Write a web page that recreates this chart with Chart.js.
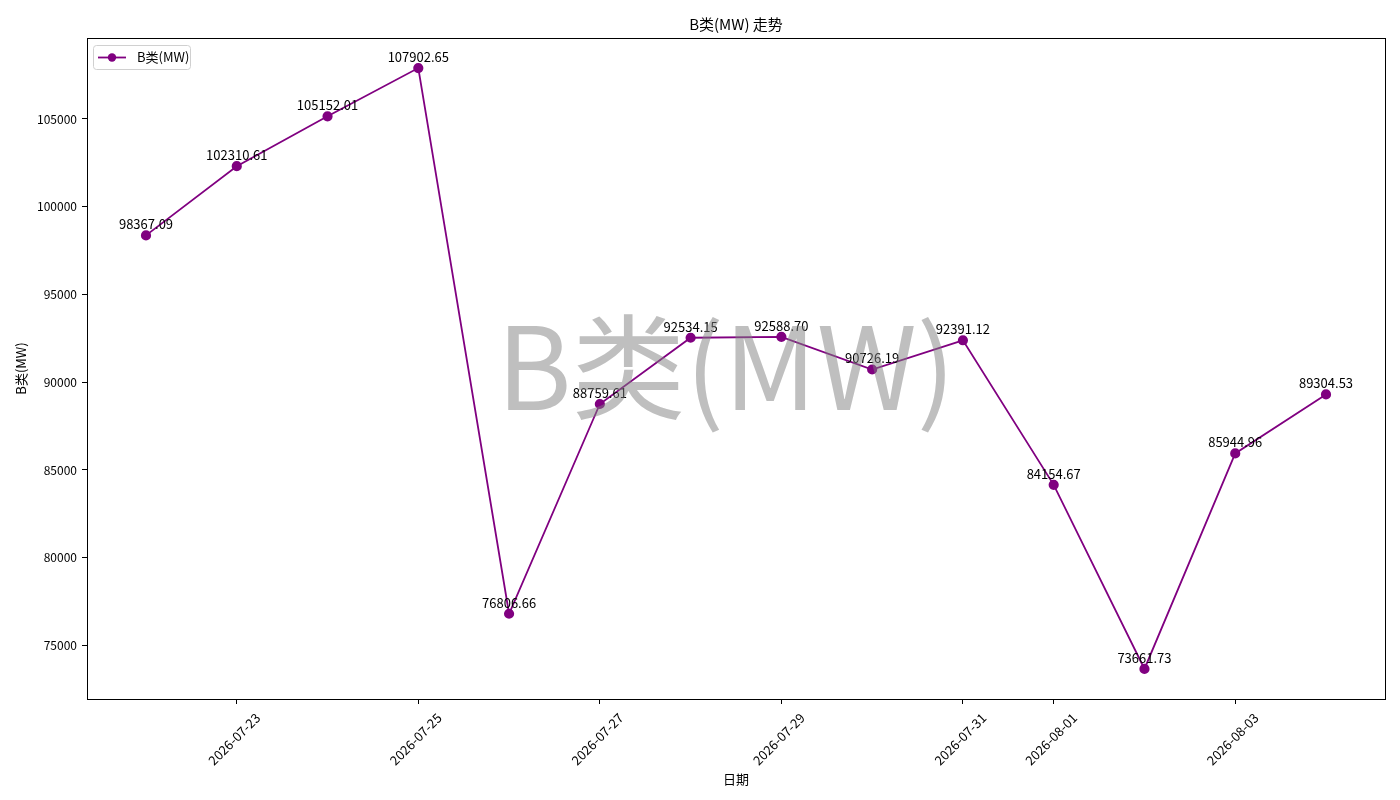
<!DOCTYPE html>
<html>
<head>
<meta charset="utf-8">
<script src="https://cdn.jsdelivr.net/npm/chart.js@4.4.1/dist/chart.umd.min.js"></script>
<style>
  html, body { margin: 0; padding: 0; background: #fff; }
  canvas { display: block; }
</style>
</head>
<body>
<canvas id="trendChart" width="1400" height="800"></canvas>
<script>
const dates = [
    '2026-07-22', '2026-07-23', '2026-07-24', '2026-07-25', '2026-07-26', '2026-07-27', '2026-07-28',
    '2026-07-29', '2026-07-30', '2026-07-31', '2026-08-01', '2026-08-02', '2026-08-03', '2026-08-04'
];
const bValues = [
    98367.09, 102310.61, 105152.01, 107902.65, 76806.66, 88759.61, 92534.15,
    92588.70, 90726.19, 92391.12, 84154.67, 73661.73, 85944.96, 89304.53
];
const xTickLabels = ['2026-07-23', '2026-07-25', '2026-07-27', '2026-07-29', '2026-07-31', '2026-08-01', '2026-08-03'];
const yTickValues = [75000, 80000, 85000, 90000, 95000, 100000, 105000];

const seriesName = 'B类(MW)';
const chartTitle = 'B类(MW) 走势';
const xTitle = '日期';
const lineColor = '#800080';
const fontFamily = '"Noto Sans CJK SC", "Noto Sans", sans-serif';

// frame, labels, legend, titles, watermark
const decorations = {
    id: 'decorations',
    afterDraw(chart) {
        const { ctx, chartArea } = chart;
        const { left, right, top, bottom } = chartArea;
        const meta = chart.getDatasetMeta(0);

        ctx.save();

        // axes box
        ctx.strokeStyle = '#000';
        ctx.lineWidth = 1;
        ctx.strokeRect(Math.round(left) + 0.5, Math.round(top) + 0.5, Math.round(right - left), Math.round(bottom - top));

        // value labels
        ctx.fillStyle = '#000';
        ctx.font = '13px ' + fontFamily;
        ctx.textAlign = 'center';
        ctx.textBaseline = 'middle';
        meta.data.forEach((pt, i) => {
            ctx.fillText(bValues[i].toFixed(2), pt.x, pt.y - 11);
        });

        // legend
        const lx = left + 6, ly = top + 7;
        ctx.beginPath();
        ctx.roundRect(lx + 0.5, ly + 0.5, 97, 24, 3);
        ctx.fillStyle = 'rgba(255,255,255,0.8)';
        ctx.fill();
        ctx.strokeStyle = '#d0d0d0';
        ctx.stroke();
        ctx.strokeStyle = lineColor;
        ctx.lineWidth = 1.8;
        ctx.beginPath();
        ctx.moveTo(lx + 5, ly + 12.5);
        ctx.lineTo(lx + 33, ly + 12.5);
        ctx.stroke();
        ctx.fillStyle = lineColor;
        ctx.beginPath();
        ctx.arc(lx + 19, ly + 12.5, 4.2, 0, Math.PI * 2);
        ctx.fill();
        ctx.fillStyle = '#000';
        ctx.font = '13px ' + fontFamily;
        ctx.textAlign = 'left';
        ctx.fillText(seriesName, lx + 44, ly + 12.5);

        // titles
        const cx = (left + right) / 2;
        ctx.textAlign = 'center';
        ctx.font = '15px ' + fontFamily;
        ctx.fillText(chartTitle, cx, 24);
        ctx.font = '13px ' + fontFamily;
        ctx.fillText(xTitle, cx, 779);
        ctx.save();
        ctx.translate(21, (top + bottom) / 2);
        ctx.rotate(-Math.PI / 2);
        ctx.fillText(seriesName, 0, 0);
        ctx.restore();

        // watermark
        ctx.font = '114px ' + fontFamily;
        ctx.fillStyle = 'rgba(128,128,128,0.5)';
        ctx.fillText(seriesName, cx - 10, (top + bottom) / 2 - 2);

        ctx.restore();
    }
};

const ctx = document.getElementById('trendChart').getContext('2d');
new Chart(ctx, {
    type: 'line',
    data: {
        datasets: [{
            label: seriesName,
            data: bValues.map((v, i) => ({ x: i, y: v })),
            borderColor: lineColor,
            backgroundColor: lineColor,
            borderWidth: 1.8,
            pointRadius: 4.2,
            pointHoverRadius: 4.2,
            tension: 0
        }]
    },
    options: {
        responsive: false,
        animation: false,
        devicePixelRatio: 1,
        layout: { padding: { top: 38, right: 15, left: 0, bottom: 0 } },
        plugins: {
            legend: { display: false },
            title: { display: false },
            tooltip: { enabled: false }
        },
        scales: {
            x: {
                type: 'linear',
                min: -0.65,
                max: 13.65,
                afterBuildTicks: scale => {
                    scale.ticks = xTickLabels.map(d => ({ value: dates.indexOf(d) }));
                },
                afterFit: scale => { scale.height = 101; },
                ticks: {
                    autoSkip: false,
                    minRotation: 45,
                    maxRotation: 45,
                    labelOffset: 21,
                    padding: 6,
                    color: '#000',
                    font: { size: 13, family: fontFamily },
                    callback: value => dates[value]
                },
                grid: { drawOnChartArea: false, color: '#000', tickColor: '#000', tickLength: 5 },
                border: { color: '#000' }
            },
            y: {
                min: 71950,
                max: 109615,
                afterBuildTicks: scale => {
                    scale.ticks = yTickValues.map(v => ({ value: v }));
                },
                afterFit: scale => { scale.width = 87; },
                ticks: {
                    padding: 5,
                    color: '#000',
                    font: { size: 12, family: fontFamily },
                    callback: value => String(value)
                },
                grid: { drawOnChartArea: false, color: '#000', tickColor: '#000', tickLength: 5 },
                border: { color: '#000' }
            }
        }
    },
    plugins: [decorations]
});
</script>
</body>
</html>
